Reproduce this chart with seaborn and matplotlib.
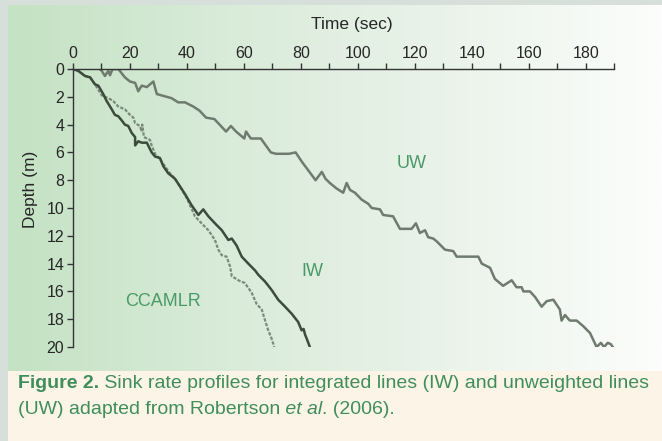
import numpy as np
import matplotlib
matplotlib.use("Agg")
import matplotlib.pyplot as plt
import seaborn as sns
from matplotlib.colors import LinearSegmentedColormap
from matplotlib.patches import Rectangle

# sink profiles: time (sec) vs depth (m)
uw_time = [9.5, 10.2, 11.3, 12.5, 13.1, 13.9, 16, 18.3, 20.1, 21.9, 23.0, 24.2, 26.0, 28.3,
           29.5, 31.2, 34.7, 37.0, 39.4, 42.3, 44.5, 46.8, 49.7, 53.8, 55.5, 57.3, 60.2,
           60.8, 62.5, 66, 69.5, 71.3, 75.9, 78.2, 80.5, 85.2, 87.4, 88.7, 90.2, 92.6,
           94.9, 96.1, 97.3, 99.0, 101.4, 103.7, 104.9, 107.8, 108.9, 112.4, 114.8, 118.9,
           120.4, 121.8, 123.6, 124.7, 126.5, 127.7, 130.6, 133.5, 134.7, 142.3, 143.5,
           146.4, 148.1, 151, 154, 155.7, 157.5, 158.1, 160.4, 162.2, 164.5, 166.3, 168.6,
           170.9, 171.5, 172.7, 174.4, 176.8, 179.1, 181.5, 183.8, 185.3, 186.4, 187.7,
           188.8, 189.8]
uw_depth = [0, 0.14, 0.5, 0.14, 0.45, 0.02, 0, 0.6, 0.9, 1.0, 1.6, 1.2, 1.3, 0.9,
            1.8, 1.9, 2.1, 2.4, 2.4, 2.7, 3.0, 3.5, 3.6, 4.5, 4.1, 4.5, 5.0,
            4.5, 5.0, 5.0, 6.0, 6.1, 6.1, 6.0, 6.7, 8.0, 7.4, 7.9, 8.2, 8.6,
            8.9, 8.2, 8.7, 8.9, 9.4, 9.7, 10.0, 10.1, 10.5, 10.6, 11.5, 11.5,
            11.1, 11.8, 11.6, 12.1, 12.2, 12.4, 13.0, 13.1, 13.5, 13.5, 14.0,
            14.3, 15.1, 15.6, 15.2, 15.7, 15.7, 16.0, 16.0, 16.4, 17.1, 16.7, 16.6,
            17.3, 18.1, 17.7, 18.1, 18.1, 18.5, 19.0, 20.0, 19.7, 20.0, 19.7,
            19.8, 20.1]

iw_time = [0, 2.0, 4.3, 6.1, 7.8, 9.0, 10.7, 11.9, 12.5, 13.7, 14.8, 16.0, 17.2, 18.3,
           19.5, 20.7, 21.9, 21.9, 23.0, 24.2, 26.0, 27.7, 28.9, 30.6, 31.8, 33.5, 35.9,
           37.5, 39.4, 41.7, 44.1, 45.8, 47.6, 49.9, 52.3, 54.6, 55.8, 57.5, 59.3, 61.6,
           64.0, 65.1, 67.5, 69.8, 72.1, 74.5, 76.8, 79.1, 80.3, 81.0, 81.5, 82.1, 83.2]
iw_depth = [0, 0.14, 0.5, 0.6, 1.1, 1.2, 1.8, 2.3, 2.5, 2.9, 3.3, 3.4, 3.7, 4.0,
            4.1, 4.6, 4.9, 5.5, 5.2, 5.3, 5.3, 6.0, 6.3, 6.4, 7.0, 7.5, 7.9,
            8.4, 9.0, 9.8, 10.5, 10.1, 10.6, 11.1, 11.6, 12.3, 12.2, 12.7, 13.5, 14.0,
            14.5, 14.8, 15.3, 15.9, 16.6, 17.1, 17.6, 18.2, 18.8, 18.7, 19.1, 19.4, 20.0]

cc_time = [0, 2.0, 4.3, 6.1, 7.8, 10.2, 12.5, 14.2, 16.0, 18.3, 20.1, 21.3, 21.9, 23.6,
           24.2, 24.4, 25.0, 27.1, 27.7, 28.9, 30.6, 32.4, 34.1, 35.9, 39.8, 42.9, 45.2,
           47.6, 49.9, 51.1, 52.3, 54.0, 55.2, 55.8, 58.1, 60.4, 62.8, 64.5, 66.3, 67.5,
           68.6, 69.8, 70.7]
cc_depth = [0, 0.14, 0.5, 0.6, 1.1, 1.9, 2.1, 2.3, 2.7, 2.9, 3.3, 3.5, 3.9, 4.1,
            4.5, 4.0, 4.9, 5.1, 5.5, 6.1, 6.5, 7.0, 7.5, 7.9, 9.2, 10.6, 11.1,
            11.6, 12.3, 13.0, 13.4, 13.5, 14.2, 14.9, 15.2, 15.4, 16.1, 16.9, 17.3, 18.1,
            18.8, 19.4, 20.0]

x_ticks = list(range(0, 181, 20))
y_ticks = list(range(0, 21, 2))

W, H = 662, 441
GREEN = "#3f8e5c"

sns.set_style("ticks")
plt.rcParams["font.family"] = ["Liberation Sans", "DejaVu Sans"]

fig = plt.figure(figsize=(W / 100, H / 100), dpi=100)
fig.patch.set_facecolor("#d6dfd9")

# green gradient panel behind the chart
bg = fig.add_axes([8 / W, 1 - 371 / H, 654 / W, 366 / H])
cmap = LinearSegmentedColormap.from_list(
    "panel", ["#c4e2c4", "#d9ebd9", "#eaf3ea", "#fcfdfc"])
bg.imshow(np.linspace(0, 1, 256)[None, :], aspect="auto", cmap=cmap, extent=[0, 1, 0, 1])
bg.set_axis_off()

# cream caption band
fig.patches.append(Rectangle((8 / W, 0), 654 / W, 70 / H, transform=fig.transFigure,
                             facecolor="#fdf4e8", edgecolor="none", zorder=0))

ax = fig.add_axes([72.7 / W, 1 - 347 / H, (614.3 - 72.7) / W, (347 - 69) / H])
ax.set_facecolor("none")

sns.lineplot(x=uw_time, y=uw_depth, sort=False, estimator=None, ax=ax,
             color="#6e7b6e", lw=1.8)
sns.lineplot(x=cc_time, y=cc_depth, sort=False, estimator=None, ax=ax,
             color="#7b8a7b", lw=1.6, linestyle=(0, (1.5, 0.7)))
sns.lineplot(x=iw_time, y=iw_depth, sort=False, estimator=None, ax=ax,
             color="#3c4b3c", lw=1.8)

ax.set_xlim(0, 190)
ax.set_ylim(20, 0)
ax.xaxis.tick_top()
ax.set_xticks(x_ticks)
ax.set_xticks(range(10, 191, 10), minor=True)
ax.set_yticks(y_ticks)
ax.spines["bottom"].set_visible(False)
ax.spines["right"].set_visible(False)
for s in ["top", "left"]:
    ax.spines[s].set_color("#333333")
    ax.spines[s].set_linewidth(1)
ax.tick_params(which="both", direction="out", color="#333333", width=1,
               labelsize=11.5, pad=2)
ax.tick_params(which="major", length=4)
ax.tick_params(which="minor", length=4)
ax.set_xlabel("")
ax.set_ylabel("")

fig.text(351.5 / W, 1 - 25 / H, "Time (sec)", ha="center", va="center", fontsize=12.5)
fig.text(30 / W, 1 - 189 / H, "Depth (m)", ha="center", va="center",
         rotation=90, fontsize=12.5)

lab_col = "#4a9a68"
ax.text(119, 6.8, "UW", ha="center", va="center", color=lab_col, fontsize=13)
ax.text(84, 14.6, "IW", ha="center", va="center", color=lab_col, fontsize=13)
ax.text(31.6, 16.7, "CCAMLR", ha="center", va="center", color=lab_col, fontsize=13)

# caption, pieces chained so bold/italic runs sit next to each other
renderer = fig.canvas.get_renderer()
cap_font = ["Liberation Sans Narrow", "Liberation Sans", "DejaVu Sans"]


def chain(pieces, x0, y):
    x = x0
    for txt, kw in pieces:
        t = fig.text(x / W, y, txt, color=GREEN, fontsize=14, family=cap_font,
                     va="baseline", ha="left", **kw)
        x += t.get_window_extent(renderer).width


chain([("Figure 2.", {"weight": "bold"}),
       (" Sink rate profiles for integrated lines (IW) and unweighted lines", {})],
      18, 1 - 388 / H)
chain([("(UW) adapted from Robertson", {}),
       (" et al", {"style": "italic"}),
       (". (2006).", {})],
      18, 1 - 414 / H)

fig.savefig("out.png", dpi=100, facecolor=fig.get_facecolor())
